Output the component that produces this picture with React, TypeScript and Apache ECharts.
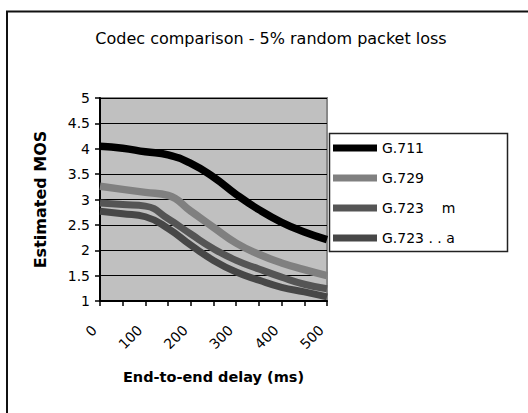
import React, { useEffect, useRef } from "react";
import * as echarts from "echarts";

const delays = ["0", "50", "100", "150", "200", "250", "300", "350", "400", "450", "500"];
const g711 = [4.05, 4.01, 3.94, 3.88, 3.71, 3.44, 3.1, 2.8, 2.55, 2.36, 2.21];
const g729 = [3.26, 3.2, 3.14, 3.08, 2.77, 2.45, 2.14, 1.92, 1.75, 1.62, 1.5];
const g723m = [2.93, 2.9, 2.87, 2.62, 2.32, 2.03, 1.8, 1.63, 1.47, 1.33, 1.24];
const g723a = [2.77, 2.72, 2.66, 2.43, 2.1, 1.8, 1.57, 1.41, 1.27, 1.18, 1.08];

const seriesNames = ["G.711", "G.729", "G.723    m", "G.723 . . a"];
const seriesColors = ["#000000", "#808080", "#555555", "#474747"];
const seriesWidths = [7.5, 7.5, 7, 7];
const seriesData = [g711, g729, g723m, g723a];

const titleText = "Codec comparison - 5% random packet loss";
const yName = "Estimated MOS";
const xName = "End-to-end delay (ms)";

const FONT = "DejaVu Sans";

export default function App() {
  const ref = useRef<HTMLDivElement>(null);
  useEffect(() => {
    if (!ref.current) return;
    const chart = echarts.init(ref.current, null, { renderer: "svg" });
    chart.setOption({
      animation: false,
      backgroundColor: "#ffffff",
      title: {
        text: titleText,
        left: 266,
        textAlign: "center",
        top: 25,
        textStyle: { fontFamily: FONT, fontSize: 16, fontWeight: "normal", color: "#000" },
      },
      graphic: [
        {
          type: "rect",
          shape: { x: 7, y: 11.5, width: 540, height: 420 },
          style: { fill: "none", stroke: "#111", lineWidth: 2 },
          silent: true,
        },
        {
          type: "rect",
          shape: { x: 329.5, y: 133.5, width: 178, height: 118 },
          style: { fill: "#ffffff", stroke: "#222", lineWidth: 1.5 },
          silent: true,
        },
      ],
      legend: {
        orient: "vertical",
        left: 333,
        top: 141,
        padding: 0,
        itemGap: 16,
        itemWidth: 44,
        itemHeight: 7,
        icon: "rect",
        data: seriesNames,
        textStyle: { fontFamily: FONT, fontSize: 14, color: "#000" },
      },
      grid: {
        left: 100,
        right: 201,
        top: 98,
        bottom: 112,
        show: true,
        backgroundColor: "#c0c0c0",
        borderColor: "#888888",
        borderWidth: 2,
      },
      xAxis: {
        type: "category",
        data: delays,
        boundaryGap: false,
        name: xName,
        nameLocation: "middle",
        nameGap: 68,
        nameTextStyle: { fontFamily: FONT, fontSize: 14.5, fontWeight: "bold", color: "#000" },
        axisLine: { show: true, lineStyle: { color: "#000", width: 2 } },
        axisTick: { show: true, interval: 0, length: 5, lineStyle: { color: "#000", width: 1.5 } },
        axisLabel: {
          interval: 1,
          rotate: 45,
          margin: 21,
          padding: [0, 8, 0, 0],
          fontFamily: FONT,
          fontSize: 14,
          color: "#000",
        },
        splitLine: { show: false },
      },
      yAxis: {
        type: "value",
        min: 1,
        max: 5,
        interval: 0.5,
        name: yName,
        nameLocation: "middle",
        nameGap: 52,
        nameTextStyle: { fontFamily: FONT, fontSize: 16, fontWeight: "bold", color: "#000" },
        axisLine: { show: true, lineStyle: { color: "#000", width: 2 } },
        axisTick: { show: true, length: 5, lineStyle: { color: "#000", width: 1.5 } },
        axisLabel: { margin: 10, fontFamily: FONT, fontSize: 14, color: "#000" },
        splitLine: { show: true, lineStyle: { color: "#000", width: 1 } },
      },
      series: seriesData.map((d, i) => ({
        name: seriesNames[i],
        type: "line",
        data: d,
        smooth: 0.5,
        symbol: "none",
        color: seriesColors[i],
        lineStyle: { color: seriesColors[i], width: seriesWidths[i] },
        z: 10 - i,
      })),
    });
    return () => chart.dispose();
  }, []);
  return (
    <div
      ref={ref}
      style={{ position: "absolute", left: 0, top: 0, width: 528, height: 413 }}
    />
  );
}
